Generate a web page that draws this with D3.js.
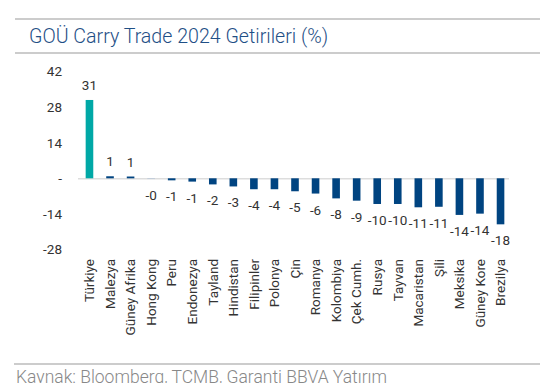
<!DOCTYPE html>
<html><head><meta charset="utf-8">
<script src="https://cdn.jsdelivr.net/npm/d3@7"></script>
<style>body{margin:0;background:#fff}svg{display:block}</style>
</head><body><svg id="c" width="540" height="383"></svg>
<script>
const categories = ["Türkiye","Malezya","Güney Afrika","Hong Kong","Peru","Endonezya","Tayland","Hindistan","Filipinler","Polonya","Çin","Romanya","Kolombiya","Çek Cumh.","Rusya","Tayvan","Macaristan","Şili","Meksika","Güney Kore","Brezilya"];
const values = [30.8,0.8,0.7,-0.3,-0.8,-1.3,-2.4,-3.2,-4.3,-4.3,-5.1,-6.0,-7.9,-8.8,-10.1,-10.1,-11.4,-11.2,-14.4,-13.9,-18.1];
const labels = ["31","1","1","-0","-1","-1","-2","-3","-4","-4","-5","-6","-8","-9","-10","-10","-11","-11","-14","-14","-18"];
const yTicks = [42,28,14,0,-14,-28];
const yTickLabels = ["42","28","14","-","-14","-28"];
const title = "GOÜ Carry Trade 2024 Getirileri (%)";
const source = "Kaynak: Bloomberg, TCMB, Garanti BBVA Yatırım";

const svg = d3.select("#c");
const font = "Roboto, 'Liberation Sans', sans-serif";
// frame lines
svg.append("line").attr("x1",15).attr("x2",540).attr("y1",19).attr("y2",19).attr("stroke","#cccccc").attr("stroke-width",2);
svg.append("line").attr("x1",15).attr("x2",540).attr("y1",53).attr("y2",53).attr("stroke","#cccccc").attr("stroke-width",2);
svg.append("line").attr("x1",14).attr("x2",540).attr("y1",364).attr("y2",364).attr("stroke","#cccccc").attr("stroke-width",2);
svg.append("text").attr("x",29).attr("y",43).attr("font-family",font).attr("font-weight",300).attr("font-size",19.6).attr("fill","#1f4f86").text(title);
svg.append("text").attr("x",16).attr("y",382.5).attr("font-family",font).attr("font-weight",300).attr("font-size",17.5).attr("fill","#888888").text(source);

const y = d3.scaleLinear().domain([-28,42]).range([249.5,71.5]);
const x = d3.scaleBand().domain(categories).range([79.5,510.5]).paddingInner(0.63).paddingOuter(0.3);

// y axis labels
const yAxis = d3.axisLeft(y).tickValues(yTicks).tickFormat((d,i)=>yTickLabels[i]).tickSize(0).tickPadding(0);
const ga = svg.append("g").attr("transform","translate(62,0)").call(yAxis);
ga.select(".domain").remove();
ga.selectAll("text").attr("font-family",font).attr("font-size",13.5).attr("fill","#333");

// baseline
svg.append("line").attr("x1",78).attr("x2",509).attr("y1",y(0)+0.5).attr("y2",y(0)+0.5).attr("stroke","#dddddd").attr("stroke-width",1.5);

svg.append("g").selectAll("rect").data(values).join("rect")
  .attr("x",(d,i)=>x(categories[i]))
  .attr("width",x.bandwidth())
  .attr("y",d=>y(Math.max(0,d)))
  .attr("height",d=>Math.abs(y(d)-y(0)))
  .attr("fill",(d,i)=>i===0?"#00a8a6":(Math.abs(d)<0.5?"#b8c6d8":"#004481"));

svg.append("g").selectAll("text").data(values).join("text")
  .attr("x",(d,i)=>x(categories[i])+x.bandwidth()/2)
  .attr("y",d=>d>=0?y(d)-10:y(d)+21)
  .attr("text-anchor","middle")
  .attr("font-family",font).attr("font-size",13.5).attr("fill","#333")
  .text((d,i)=>labels[i]);

const xAxis = d3.axisBottom(x).tickSize(0).tickPadding(0);
const gx = svg.append("g").attr("transform","translate(0,259)").call(xAxis);
gx.select(".domain").remove();
gx.selectAll("text").attr("font-family",font).attr("font-size",13.5).attr("fill","#333")
  .attr("transform","rotate(-90)").attr("text-anchor","end").attr("dy","0.35em").attr("x",0).attr("y",0);
</script></body></html>
